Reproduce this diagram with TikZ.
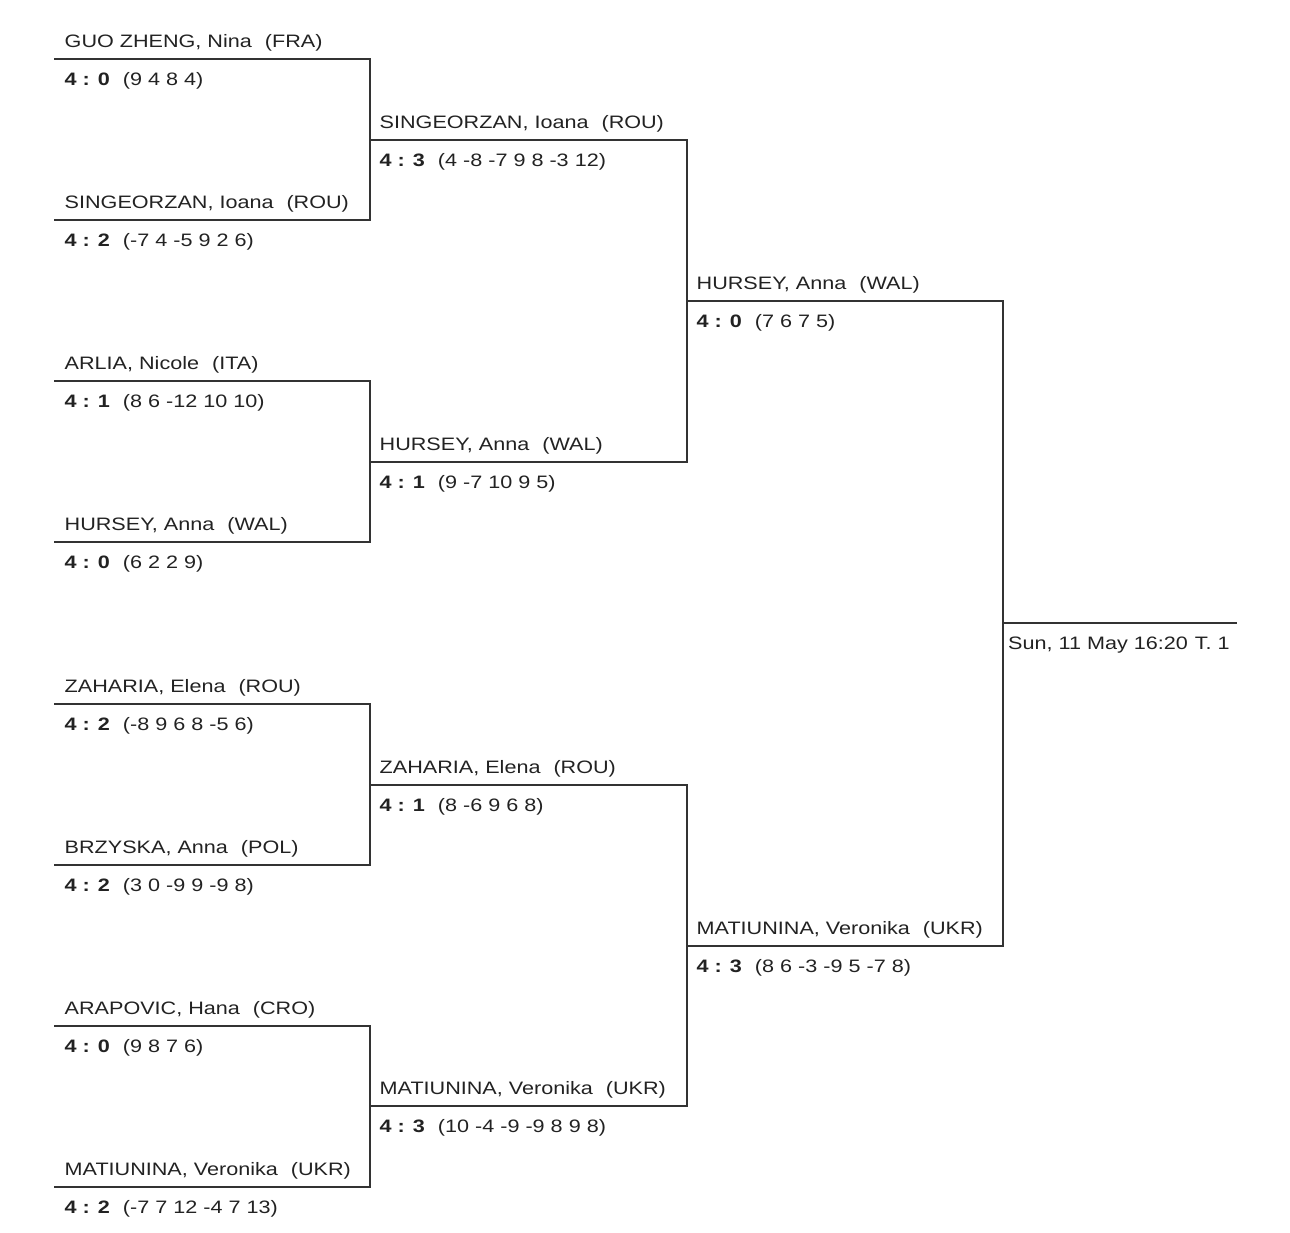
\documentclass[tikz,border=0pt]{standalone}
\usepackage{fontspec}
\setmainfont[FakeStretch=1.2]{Liberation Sans}
\definecolor{txt}{HTML}{222222}
\definecolor{lin}{HTML}{333333}
\tikzset{
  nametext/.style={anchor=base west, inner sep=0pt, text=txt, font=\fontsize{18}{22}\selectfont},
  scoretext/.style={anchor=base west, inner sep=0pt, text=txt, font=\fontsize{18}{22}\selectfont},
  bline/.style={draw=lin, line width=1.8pt, line cap=rect, line join=miter},
}
% #1 id, #2 left x, #3 line y, #4 right x, #5 name, #6 country, #7 score, #8 sets
\newcommand{\bentry}[8]{%
  \coordinate (L#1) at (#2,#3);
  \coordinate (R#1) at (#4,#3);
  \node[nametext] (nm#1) at (#2+9.5,#3-12) {#5\hspace{13pt}(#6)};
  \node[scoretext] (sc#1) at (#2+9.5,#3+26) {\textbf{#7}\hspace{13pt}(#8)};
  \draw[bline] (L#1) -- (R#1);
}
\begin{document}
\begin{tikzpicture}[x=1pt,y=-1pt]
\useasboundingbox (0,0) rectangle (1290,1232);
% Round 1
\bentry{a1}{55}{59}{370}{GUO ZHENG, Nina}{FRA}{4 : 0}{9 4 8 4}
\bentry{a2}{55}{220}{370}{SINGEORZAN, Ioana}{ROU}{4 : 2}{-7 4 -5 9 2 6}
\bentry{a3}{55}{381}{370}{ARLIA, Nicole}{ITA}{4 : 1}{8 6 -12 10 10}
\bentry{a4}{55}{542}{370}{HURSEY, Anna}{WAL}{4 : 0}{6 2 2 9}
\bentry{a5}{55}{704}{370}{ZAHARIA, Elena}{ROU}{4 : 2}{-8 9 6 8 -5 6}
\bentry{a6}{55}{865}{370}{BRZYSKA, Anna}{POL}{4 : 2}{3 0 -9 9 -9 8}
\bentry{a7}{55}{1026}{370}{ARAPOVIC, Hana}{CRO}{4 : 0}{9 8 7 6}
\bentry{a8}{55}{1187}{370}{MATIUNINA, Veronika}{UKR}{4 : 2}{-7 7 12 -4 7 13}
% Round 2
\bentry{b1}{370}{140}{687}{SINGEORZAN, Ioana}{ROU}{4 : 3}{4 -8 -7 9 8 -3 12}
\bentry{b2}{370}{462}{687}{HURSEY, Anna}{WAL}{4 : 1}{9 -7 10 9 5}
\bentry{b3}{370}{785}{687}{ZAHARIA, Elena}{ROU}{4 : 1}{8 -6 9 6 8}
\bentry{b4}{370}{1106}{687}{MATIUNINA, Veronika}{UKR}{4 : 3}{10 -4 -9 -9 8 9 8}
% Round 3
\bentry{c1}{687}{301}{1003}{HURSEY, Anna}{WAL}{4 : 0}{7 6 7 5}
\bentry{c2}{687}{946}{1003}{MATIUNINA, Veronika}{UKR}{4 : 3}{8 6 -3 -9 5 -7 8}
% Final
\coordinate (Lf) at (1003,623);
\coordinate (Rf) at (1236,623);
\draw[bline] (Lf) -- (Rf);
\node[scoretext] (date) at (1008,649) {Sun, 11 May 16:20\hspace{7pt}T. 1};
% Vertical connectors
\draw[bline] (Ra1) -- (Ra2);
\draw[bline] (Ra3) -- (Ra4);
\draw[bline] (Ra5) -- (Ra6);
\draw[bline] (Ra7) -- (Ra8);
\draw[bline] (Rb1) -- (Rb2);
\draw[bline] (Rb3) -- (Rb4);
\draw[bline] (Rc1) -- (Rc2);
\end{tikzpicture}
\end{document}
